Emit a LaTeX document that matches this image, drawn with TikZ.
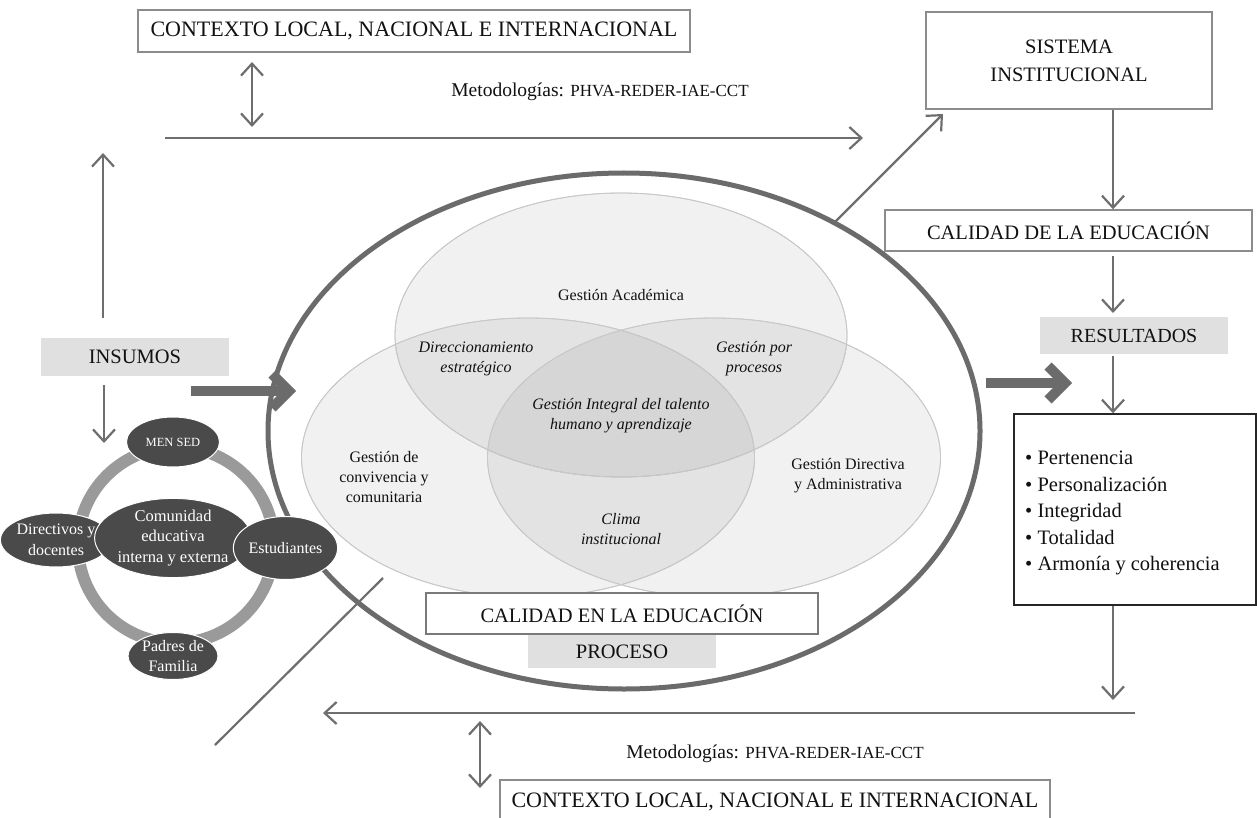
\documentclass[tikz,border=0pt]{standalone}
\usepackage{fontspec}
\setmainfont{Liberation Serif}
\usetikzlibrary{arrows.meta,shapes.geometric}
\definecolor{arrc}{HTML}{6E6E6E}
\definecolor{ellc}{HTML}{6B6B6B}
\definecolor{boxc}{HTML}{8C8C8C}
\definecolor{grayfill}{HTML}{E0E0E0}
\definecolor{ringc}{HTML}{9A9A9A}
\definecolor{darkn}{HTML}{4A4A4A}
\definecolor{venc}{HTML}{C8C8C8}
\definecolor{txt}{HTML}{111111}
\newcommand{\fz}[2]{\fontsize{#1pt}{#2pt}\selectfont}
\newcommand{\fsc}[1]{{\fontsize{17pt}{17pt}\selectfont #1}}
\tikzset{
  conn/.style={draw=arrc, line width=2.2pt, -{Straight Barb[length=12pt,width=22pt]}},
  dconn/.style={draw=arrc, line width=2.2pt, {Straight Barb[length=12pt,width=22pt]}-{Straight Barb[length=12pt,width=22pt]}},
  plainline/.style={draw=arrc, line width=2.2pt},
  wbox/.style={draw=boxc, line width=1.4pt, fill=white, inner sep=0pt, text=txt},
  gbox/.style={fill=grayfill, inner sep=0pt, text=txt},
  venn/.style={draw=venc, line width=0.8pt, fill=black, fill opacity=0.055},
  cnode/.style={ellipse, fill=darkn, draw=white, line width=1pt, inner sep=0pt, text=white, align=center, font=\fz{16}{20.5}},
  thick/.style={draw=ellc, line width=10pt},
  vtxt/.style={text=txt, align=center, font=\fz{16}{20}},
  vitx/.style={text=txt, align=center, font=\fz{16}{20}\itshape},
  mtxt/.style={text=txt, font=\fz{19.5}{22}},
}
\begin{document}
\begin{tikzpicture}[x=1pt, y=-1pt]
\useasboundingbox (0,0) rectangle (1257,818);
\fill[white] (0,0) rectangle (1257,818);

% Venn diagram
\fill[venn] (621,335) ellipse [x radius=226pt, y radius=142pt];
\fill[venn] (528,457.5) ellipse [x radius=226.5pt, y radius=139.5pt];
\fill[venn] (714,457.5) ellipse [x radius=226.5pt, y radius=139.5pt];
\draw[draw=venc, line width=0.8pt] (621,335) ellipse [x radius=226pt, y radius=142pt];
\draw[draw=venc, line width=0.8pt] (528,457.5) ellipse [x radius=226.5pt, y radius=139.5pt];
\draw[draw=venc, line width=0.8pt] (714,457.5) ellipse [x radius=226.5pt, y radius=139.5pt];

\node[vtxt] (ga) at (621,295) {Gestión Académica};
\node[vitx] (de) at (476,359) {Direccionamiento\\estratégico};
\node[vitx] (gp) at (754,359) {Gestión por\\procesos};
\node[vitx] (gi) at (621,416) {Gestión Integral del talento\\humano y aprendizaje};
\node[vtxt] (gc) at (384,477) {Gestión de\\convivencia y\\comunitaria};
\node[vtxt] (gd) at (848,476) {Gestión Directiva\\y Administrativa};
\node[vitx] (ci) at (621,529) {Clima\\institucional};

% big ellipse
\draw[draw=ellc, line width=5pt] (624,431) ellipse [x radius=356pt, y radius=258pt];

% boxes inside
\node[wbox, draw=ellc!90, line width=1.8pt, minimum width=392pt, minimum height=41pt, font=\fz{20.5}{24}] (cee) at (622,613.5) {CALIDAD EN LA EDUCACIÓN};
\node[gbox, minimum width=188pt, minimum height=33pt, font=\fz{20.5}{24}] (pro) at (622,651.5) {PROCESO};

% top part
\node[wbox, minimum width=552pt, minimum height=42pt, font=\fz{22}{26}] (ctxT) at (414,31) {CONTEXTO LOCAL, NACIONAL E INTERNACIONAL};
\node[mtxt] (metT) at (600,92) {Metodologías: \fsc{PHVA-REDER-IAE-CCT}};
\coordinate (dTa) at (252,62);
\coordinate (dTb) at (252,127);
\draw[dconn] (dTa) -- (dTb);
\coordinate (lTa) at (165,138);
\coordinate (lTb) at (863,138);
\draw[conn] (lTa) -- (lTb);

\node[wbox, minimum width=286pt, minimum height=97pt, align=center, font=\fz{20.5}{28}] (sis) at (1069,60.5) {SISTEMA\\INSTITUCIONAL};
\node[wbox, minimum width=367pt, minimum height=41pt, font=\fz{20.5}{24}] (cde) at (1068.5,230.5) {CALIDAD DE LA EDUCACIÓN};
\node[gbox, minimum width=188pt, minimum height=37pt, font=\fz{20}{24}] (res) at (1134,335.5) {RESULTADOS};
\node[draw=black!85, line width=1.4pt, fill=white, minimum width=242pt, minimum height=191pt] (lstbox) at (1135,509.5) {};
\node[anchor=west, inner sep=0pt, align=left, text=txt, font=\fz{20.5}{26.5}] (lst) at (1025,513)
  {• Pertenencia\\• Personalización\\• Integridad\\• Totalidad\\• Armonía y coherencia};

\coordinate (dg1) at (835,222);
\coordinate (dg2) at (943,114);
\draw[conn] (dg1) -- (dg2);
\draw[conn] (sis.south -| 1113,0) -- (cde.north -| 1113,0);
\draw[conn] (cde.south -| 1113,0) ++(0,4) -- (1113,313);
\draw[conn] (res.south -| 1113,0) ++(0,2) -- (lstbox.north -| 1113,0);
\coordinate (lstc) at (1113,700);
\draw[conn] (lstbox.south -| 1113,0) -- (lstc);

% bottom
\coordinate (lBa) at (1135,713);
\coordinate (lBb) at (323,713);
\draw[conn] (lBa) -- (lBb);
\coordinate (dBa) at (480,721);
\coordinate (dBb) at (480,788);
\draw[dconn] (dBa) -- (dBb);
\node[mtxt] (metB) at (775,754) {Metodologías: \fsc{PHVA-REDER-IAE-CCT}};
\node[wbox, minimum width=550pt, minimum height=44pt, font=\fz{22}{26}] (ctxB) at (775,802) {CONTEXTO LOCAL, NACIONAL E INTERNACIONAL};

% left side
\coordinate (upa) at (103,318);
\coordinate (upb) at (103,153);
\draw[conn] (upa) -- (upb);
\node[gbox, minimum width=188pt, minimum height=38pt, font=\fz{20.5}{24}] (ins) at (135,357) {INSUMOS};
\coordinate (insc) at (104,443);
\draw[conn] (ins.south -| 104,0) ++(0,9) -- (insc);

% ring and nodes
\draw[draw=ringc, line width=12pt] (176,545) circle [radius=98pt];
\node[cnode, minimum width=93pt, minimum height=50pt, font=\fz{12.5}{14}] (men) at (173,442) {MEN SED};
\node[cnode, minimum width=93pt, minimum height=54pt] (dir) at (56,540) {Directivos y\\docentes};
\node[cnode, minimum width=120pt, minimum height=74pt, font=\fz{16.5}{20.5}] (com) at (173,538) {Comunidad\\educativa\\interna y externa};
\node[cnode, minimum width=95pt, minimum height=63pt] (est) at (285.5,548) {Estudiantes};
\node[cnode, minimum width=90pt, minimum height=47pt] (pad) at (173,656) {Padres de\\Familia};

% diagonal line bottom-left
\coordinate (bl1) at (383,578);
\coordinate (bl2) at (215,745);
\draw[plainline] (bl1) -- (bl2);

% thick arrows
\draw[thick] (191,391) -- (285,391);
\draw[thick, line join=miter] (272,374) -- (289,391) -- (272,408);
\draw[thick] (986,383) -- (1062,383);
\draw[thick, line join=miter] (1048,366) -- (1065,383) -- (1048,400);
\end{tikzpicture}
\end{document}
